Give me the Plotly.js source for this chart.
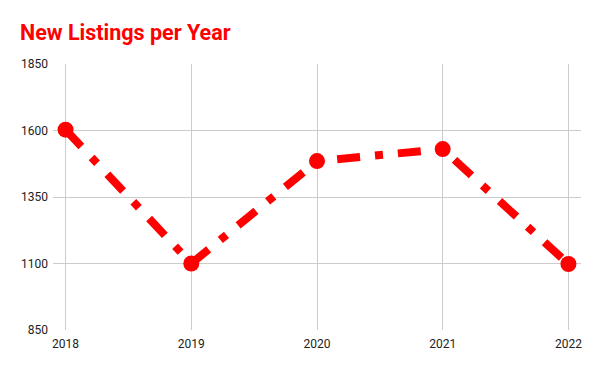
<!DOCTYPE html>
<html><head><meta charset="utf-8">
<script src="https://cdn.plot.ly/plotly-3.0.1.min.js"></script>
<style>html,body{margin:0;padding:0;background:#fff}#chart{width:600px;height:371px}</style>
</head><body><div id="chart"></div>
<script>
const years = [2018, 2019, 2020, 2021, 2022];
const listings = [1603, 1100, 1485, 1530, 1098];
const yTicks = [850, 1100, 1350, 1600, 1850];

Plotly.newPlot('chart', [{
  x: years, y: listings, type: 'scatter', mode: 'lines+markers',
  line: {color: '#ff0000', width: 8, dash: '23px,15px,8px,15px'},
  marker: {color: '#ff0000', size: 16},
  hoverinfo: 'skip'
}], {
  width: 600, height: 371,
  margin: {l: 53, r: 19, t: 64, b: 41},
  paper_bgcolor: '#fff', plot_bgcolor: '#fff',
  title: {text: '<b>New Listings per Year</b>', x: 20/600, xref: 'container', xanchor: 'left', y: 1, yref: 'container', yanchor: 'top',
    pad: {t: 25}, font: {family: 'Roboto, sans-serif', size: 21.5, color: '#ff0000'}},
  xaxis: {range: [2017.9, 2022.1], tickvals: years, ticktext: years.map(String),
    showgrid: true, gridcolor: '#cccccc', gridwidth: 1, zeroline: false, showline: false,
    ticks: '', ticklabelstandoff: 5, tickfont: {family: 'Roboto, sans-serif', size: 12, color: '#222'}, fixedrange: true},
  yaxis: {range: [850, 1850], tickvals: yTicks, ticktext: yTicks.map(String),
    showgrid: true, gridcolor: '#cccccc', gridwidth: 1, zeroline: false, showline: false,
    ticks: '', ticklabelstandoff: 4, tickfont: {family: 'Roboto, sans-serif', size: 12, color: '#222'}, fixedrange: true},
  showlegend: false
}, {displayModeBar: false, staticPlot: true});
</script></body></html>
